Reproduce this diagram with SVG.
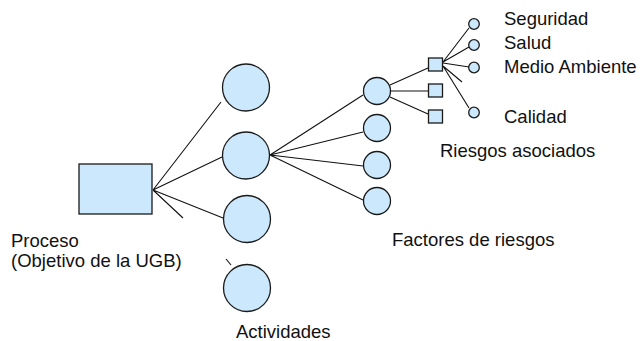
<svg xmlns="http://www.w3.org/2000/svg" width="641" height="341" viewBox="0 0 641 341">
<style>
.n{fill:#cce8fc;stroke:#1a1a1a;stroke-width:1.3}
.c{stroke:#111;stroke-width:1.1;fill:none}
text{font-family:"Liberation Sans",Arial,sans-serif;font-size:18.5px;fill:#111}
</style>
<rect width="641" height="341" fill="#fff"/>
<g id="connectors">
<path class="c" d="M153 190 L221 102 M153 190 L222 157 M153 190 L223 218 M153 190 L183 218 M226 259 L231 265"/>
<path class="c" d="M270 155 L363 95 M270 155 L363 132 M270 155 L363 166 M270 155 L363 200"/>
<path class="c" d="M390 85 L428 68 M391 91 L428 91 M390 97 L428 114"/>
<path class="c" d="M443 62 L469 28 M443 62 L469 47 M443 63 L469 67 M443 66 L462 82 M443 66 L469 108"/>
</g>
<g id="proceso"><rect class="n" x="79" y="164" width="73" height="50"/></g>
<g id="act1"><circle class="n" cx="246" cy="87.5" r="23.5"/></g>
<g id="act2"><circle class="n" cx="246" cy="155.5" r="23.5"/></g>
<g id="act3"><circle class="n" cx="247" cy="219" r="23.5"/></g>
<g id="act4"><circle class="n" cx="247" cy="288" r="23.5"/></g>
<g id="fac1"><circle class="n" cx="377" cy="91" r="13.5"/></g>
<g id="fac2"><circle class="n" cx="377" cy="128" r="13.5"/></g>
<g id="fac3"><circle class="n" cx="377" cy="165" r="13.5"/></g>
<g id="fac4"><circle class="n" cx="377" cy="201" r="13.5"/></g>
<g id="r1"><rect class="n" x="428.5" y="58" width="14" height="13"/></g>
<g id="r2"><rect class="n" x="428.5" y="84" width="14" height="13"/></g>
<g id="r3"><rect class="n" x="428.5" y="110" width="14" height="13"/></g>
<g id="seguridad"><circle class="n" cx="474" cy="24" r="5.3"/><text x="504" y="25">Seguridad</text></g>
<g id="salud"><circle class="n" cx="474" cy="45" r="5.3"/><text x="504" y="49">Salud</text></g>
<g id="medio"><circle class="n" cx="474" cy="67.5" r="5.3"/><text x="504" y="73">Medio Ambiente</text></g>
<g id="calidad"><circle class="n" cx="474" cy="112.5" r="5.3"/><text x="504" y="123">Calidad</text></g>
<text x="440" y="157">Riesgos asociados</text>
<text x="392" y="246">Factores de riesgos</text>
<text x="11" y="247">Proceso</text>
<text x="11" y="267">(Objetivo de la UGB)</text>
<text x="236" y="338">Actividades</text>
</svg>
